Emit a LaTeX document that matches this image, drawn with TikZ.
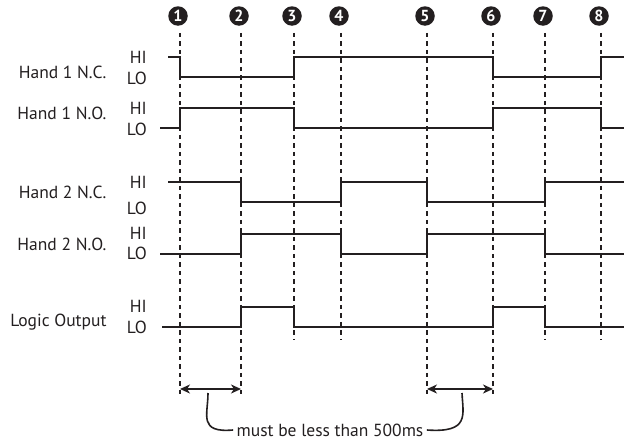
\documentclass[tikz,border=0pt]{standalone}
\usepackage{fontspec}
\setmainfont{PT Sans}
\usetikzlibrary{arrows.meta, positioning}
\definecolor{ink}{HTML}{231F20}

\begin{document}
\begin{tikzpicture}[x=1pt, y=-1pt, >={Stealth[length=10pt, width=9pt, inset=3pt]}, font=\fontsize{17.5}{20}\selectfont, every node/.style={text=ink},
  num/.style={circle, fill=ink, text=white, inner sep=0pt, minimum size=19.5pt, xshift=-2pt, font=\fontsize{16}{16}\selectfont\bfseries},
  lvl/.style={anchor=east, inner sep=0pt},
  sig/.style={draw=ink, line width=2pt},
  guide/.style={draw=ink, line width=1.2pt, dash pattern=on 4.5pt off 4pt, shorten <=7pt}]
\useasboundingbox (0,0) rectangle (624,442);

% event markers
\node[num] (n1) at (180,16) {1};
\node[num] (n2) at (241,16) {2};
\node[num] (n3) at (294,16) {3};
\node[num] (n4) at (341,16) {4};
\node[num] (n5) at (427,16) {5};
\node[num] (n6) at (493,16) {6};
\node[num] (n7) at (545,16) {7};
\node[num] (n8) at (601,16) {8};

\coordinate (e1) at (180,395);
\coordinate (e2) at (241,395);
\coordinate (e3) at (294,340);
\coordinate (e4) at (341,340);
\coordinate (e5) at (427,395);
\coordinate (e6) at (493,395);
\coordinate (e7) at (545,340);
\coordinate (e8) at (601,340);
\draw[guide] (n1.south -| e1) -- (e1);
\draw[guide] (n2.south -| e2) -- (e2);
\draw[guide] (n3.south -| e3) -- (e3);
\draw[guide] (n4.south -| e4) -- (e4);
\draw[guide] (n5.south -| e5) -- (e5);
\draw[guide] (n6.south -| e6) -- (e6);
\draw[guide] (n7.south -| e7) -- (e7);
\draw[guide] (n8.south -| e8) -- (e8);

% signal names
\node[anchor=east] (h1nc) at (110,72) {Hand 1 N.C.};
\node[lvl] (h1nchi) at (147,57) {HI};
\node[lvl] (h1nclo) at (147,78) {LO};
\node[anchor=east] (h1no) at (110,113) {Hand 1 N.O.};
\node[lvl] (h1nohi) at (147,108) {HI};
\node[lvl] (h1nolo) at (147,129) {LO};
\node[anchor=east] (h2nc) at (110,192) {Hand 2 N.C.};
\node[lvl] (h2nchi) at (147,182) {HI};
\node[lvl] (h2nclo) at (147,208) {LO};
\node[anchor=east] (h2no) at (110,244) {Hand 2 N.O.};
\node[lvl] (h2nohi) at (147,233) {HI};
\node[lvl] (h2nolo) at (147,253) {LO};
\node[anchor=east] (out) at (110,322) {Logic Output};
\node[lvl] (outhi) at (147,306) {HI};
\node[lvl] (outlo) at (147,327) {LO};

% waveforms
\draw[sig] (168,57) -| (e1 |- 0,77) -| (e3 |- 0,57) -| (e6 |- 0,77) -| (e8 |- 0,57) -- (624,57);
\draw[sig] (160,128) -| (e1 |- 0,108) -| (e3 |- 0,128) -| (e6 |- 0,108) -| (e8 |- 0,128) -- (624,128);
\draw[sig] (168,182) -| (e2 |- 0,202) -| (e4 |- 0,182) -| (e5 |- 0,202) -| (e7 |- 0,182) -- (624,182);
\draw[sig] (160,254) -| (e2 |- 0,234) -| (e4 |- 0,254) -| (e5 |- 0,234) -| (e7 |- 0,254) -- (624,254);
\draw[sig] (162,327) -| (e2 |- 0,307) -| (e3 |- 0,327) -| (e6 |- 0,307) -| (e7 |- 0,327) -- (624,327);

% timing limit
\coordinate (a1) at (e1 |- 0,389);
\coordinate (a2) at (e2 |- 0,389);
\coordinate (a5) at (e5 |- 0,389);
\coordinate (a6) at (e6 |- 0,389);
\draw[<->, draw=ink, line width=2pt] (a1) -- (a2);
\draw[<->, draw=ink, line width=2pt] (a5) -- (a6);
\node (note) at (330,430) {must be less than 500ms};
\coordinate (c1) at (208,393);
\coordinate (c2) at (462,393);
\draw[draw=ink, line width=1.6pt] (c1) .. controls (208,415) and (198,433) .. (note.west);
\draw[draw=ink, line width=1.6pt] (c2) .. controls (463,415) and (470,433) .. (note.east);
\end{tikzpicture}
\end{document}
